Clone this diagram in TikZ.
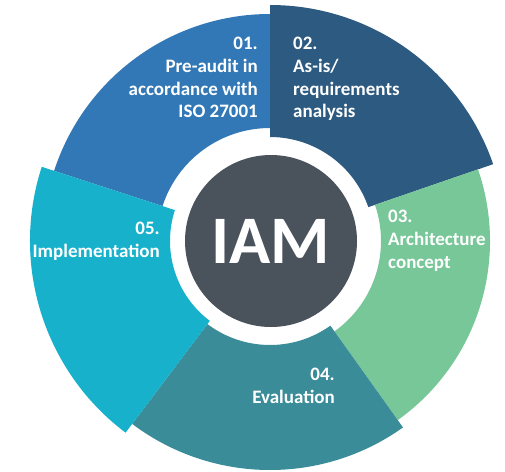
\documentclass[tikz,border=0pt]{standalone}
\usepackage{fontspec}
\setmainfont{Carlito}

\definecolor{auditblue}{RGB}{51,120,182}
\definecolor{analysisblue}{RGB}{45,90,128}
\definecolor{conceptgreen}{RGB}{120,199,153}
\definecolor{evalteal}{RGB}{59,140,153}
\definecolor{implcyan}{RGB}{23,177,204}
\definecolor{iamgray}{RGB}{74,82,92}

% #1 colour, #2 start angle, #3 end angle, #4 inner radius, #5 outer radius
\newcommand{\ringpart}[5]{%
  \fill[#1] (#2:#4pt) -- (#2:#5pt) arc[start angle=#2,end angle=#3,radius=#5pt]
    -- (#3:#4pt) arc[start angle=#3,end angle=#2,radius=#4pt] -- cycle;}

\begin{document}
\begin{tikzpicture}[x=1pt,y=1pt,
  steptext/.style={text=white,inner sep=0pt,font=\fontsize{19}{22.7}\selectfont\bfseries},
  hub/.style={circle,fill=iamgray,minimum size=172pt,inner sep=0pt,text=white,font=\fontsize{68}{68}\selectfont\bfseries}
]
\useasboundingbox (-270,-230) rectangle (235,241);

\ringpart{auditblue}{90}{162}{113}{227}
\ringpart{analysisblue}{19}{90}{104}{236}
\ringpart{conceptgreen}{-54.5}{19}{111}{220}
\ringpart{evalteal}{233}{305.5}{104}{229}
\ringpart{implcyan}{162}{233}{100}{240}

\node [hub] (iam) at (1,0) {IAM} ;

% anchors sit on the last line of each text
\node [steptext,align=right,anchor=base east] (step01) at (-12,123)
  {01.\\ Pre-audit in\\ accordance with\\ ISO 27001} ;
\node [steptext,align=left,anchor=base west] (step02) at (23,123)
  {02.\\ As-is/\\ requirements\\ analysis} ;
\node [steptext,align=left,anchor=base west] (step03) at (118,-27)
  {03.\\ Architecture\\ concept} ;
\node [steptext,align=right,anchor=base east] (step04) at (65,-162)
  {04.\\ Evaluation} ;
\node [steptext,align=right,anchor=base east] (step05) at (-110,-16)
  {05.\\ Implementation} ;

\end{tikzpicture}
\end{document}
